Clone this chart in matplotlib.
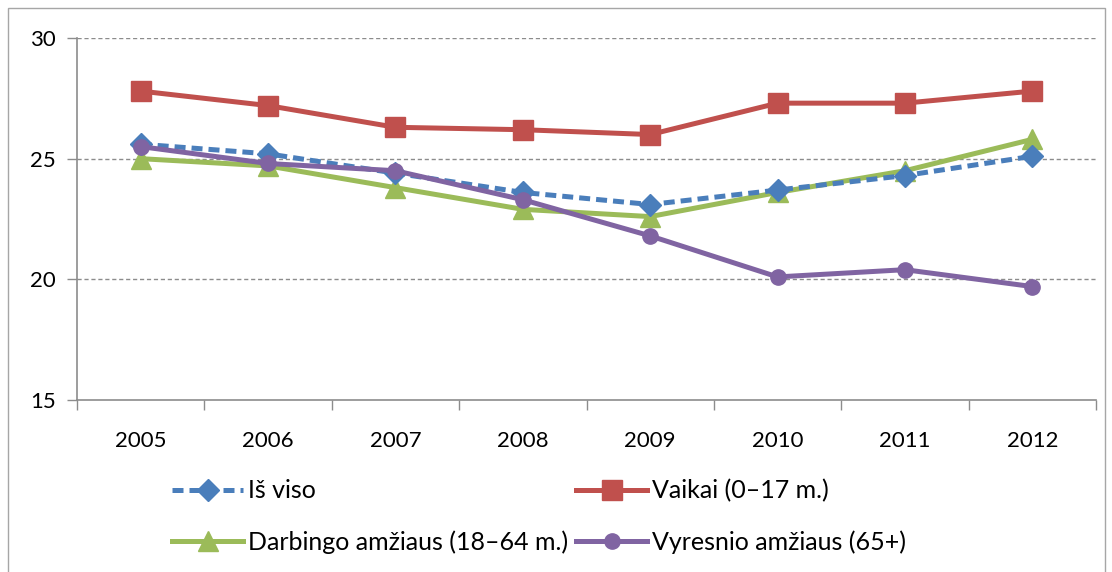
import matplotlib
matplotlib.use("Agg")
import matplotlib.pyplot as plt
from matplotlib.patches import Rectangle

years = ["2005", "2006", "2007", "2008", "2009", "2010", "2011", "2012"]
is_viso = [25.6, 25.2, 24.4, 23.6, 23.1, 23.7, 24.3, 25.1]
vaikai = [27.8, 27.2, 26.3, 26.2, 26.0, 27.3, 27.3, 27.8]
darbingo = [25.0, 24.7, 23.8, 22.9, 22.6, 23.6, 24.5, 25.8]
vyresnio = [25.5, 24.8, 24.5, 23.3, 21.8, 20.1, 20.4, 19.7]
labels = ["Iš viso", "Vaikai (0–17 m.)", "Darbingo amžiaus (18–64 m.)", "Vyresnio amžiaus (65+)"]
yticks = [15, 20, 25, 30]

plt.rcParams['font.family'] = ['Lato', 'DejaVu Sans']

W, H = 1112, 572
fig = plt.figure(figsize=(W / 100, H / 100), dpi=100)
fig.patches.append(Rectangle((7.5 / W, -0.01), (1105 - 7.5) / W, (564.5) / H + 0.01,
                             transform=fig.transFigure, fill=False,
                             edgecolor='#A6A6A6', linewidth=1.0))

ax = fig.add_axes([77 / W, 1 - 400 / H, (1096 - 77) / W, (400 - 38) / H])
x = list(range(len(years)))
gray = '#8C8C8C'

h0, = ax.plot(x, is_viso, color='#4A7EBB', lw=3.6, ls=(0, (2.2, 1.2)), marker='D', ms=11,
              label=labels[0], zorder=5)
h1, = ax.plot(x, vaikai, color='#C0504D', lw=3.6, marker='s', ms=14, label=labels[1], zorder=4)
h2, = ax.plot(x, darbingo, color='#9BBB59', lw=3.6, marker='^', ms=14, label=labels[2], zorder=3)
h3, = ax.plot(x, vyresnio, color='#8064A2', lw=3.6, marker='o', ms=11, label=labels[3], zorder=6)

ax.set_xlim(-0.5, len(years) - 0.5)
ax.set_ylim(15, 30)
ax.set_yticks(yticks)
ax.set_yticklabels([str(v) for v in yticks], fontsize=16)
ax.set_xticks(x)
ax.set_xticklabels(years, fontsize=16)
ax.set_xticks([i - 0.5 for i in range(len(years) + 1)], minor=True)
ax.tick_params(axis='x', which='major', length=0, pad=22)
ax.tick_params(axis='x', which='minor', length=7, color=gray, width=1)
ax.tick_params(axis='y', length=7, color=gray, width=1, pad=8)

for v in yticks[1:]:
    ax.axhline(v, color='#8C8C8C', lw=1, ls=(0, (3, 2)), zorder=1)

for s in ['top', 'right']:
    ax.spines[s].set_visible(False)
for s in ['left', 'bottom']:
    ax.spines[s].set_color(gray)
    ax.spines[s].set_linewidth(1.2)

leg = fig.legend([h0, h2, h1, h3], [labels[0], labels[2], labels[1], labels[3]],
                 loc='upper left', bbox_to_anchor=(172 / W, 1 - 479 / H), ncol=2,
                 frameon=False, fontsize=18, handlelength=2.85, handletextpad=0.2,
                 columnspacing=0.3, labelspacing=1.12, borderpad=0, borderaxespad=0)

fig.savefig("out.png", dpi=100)
